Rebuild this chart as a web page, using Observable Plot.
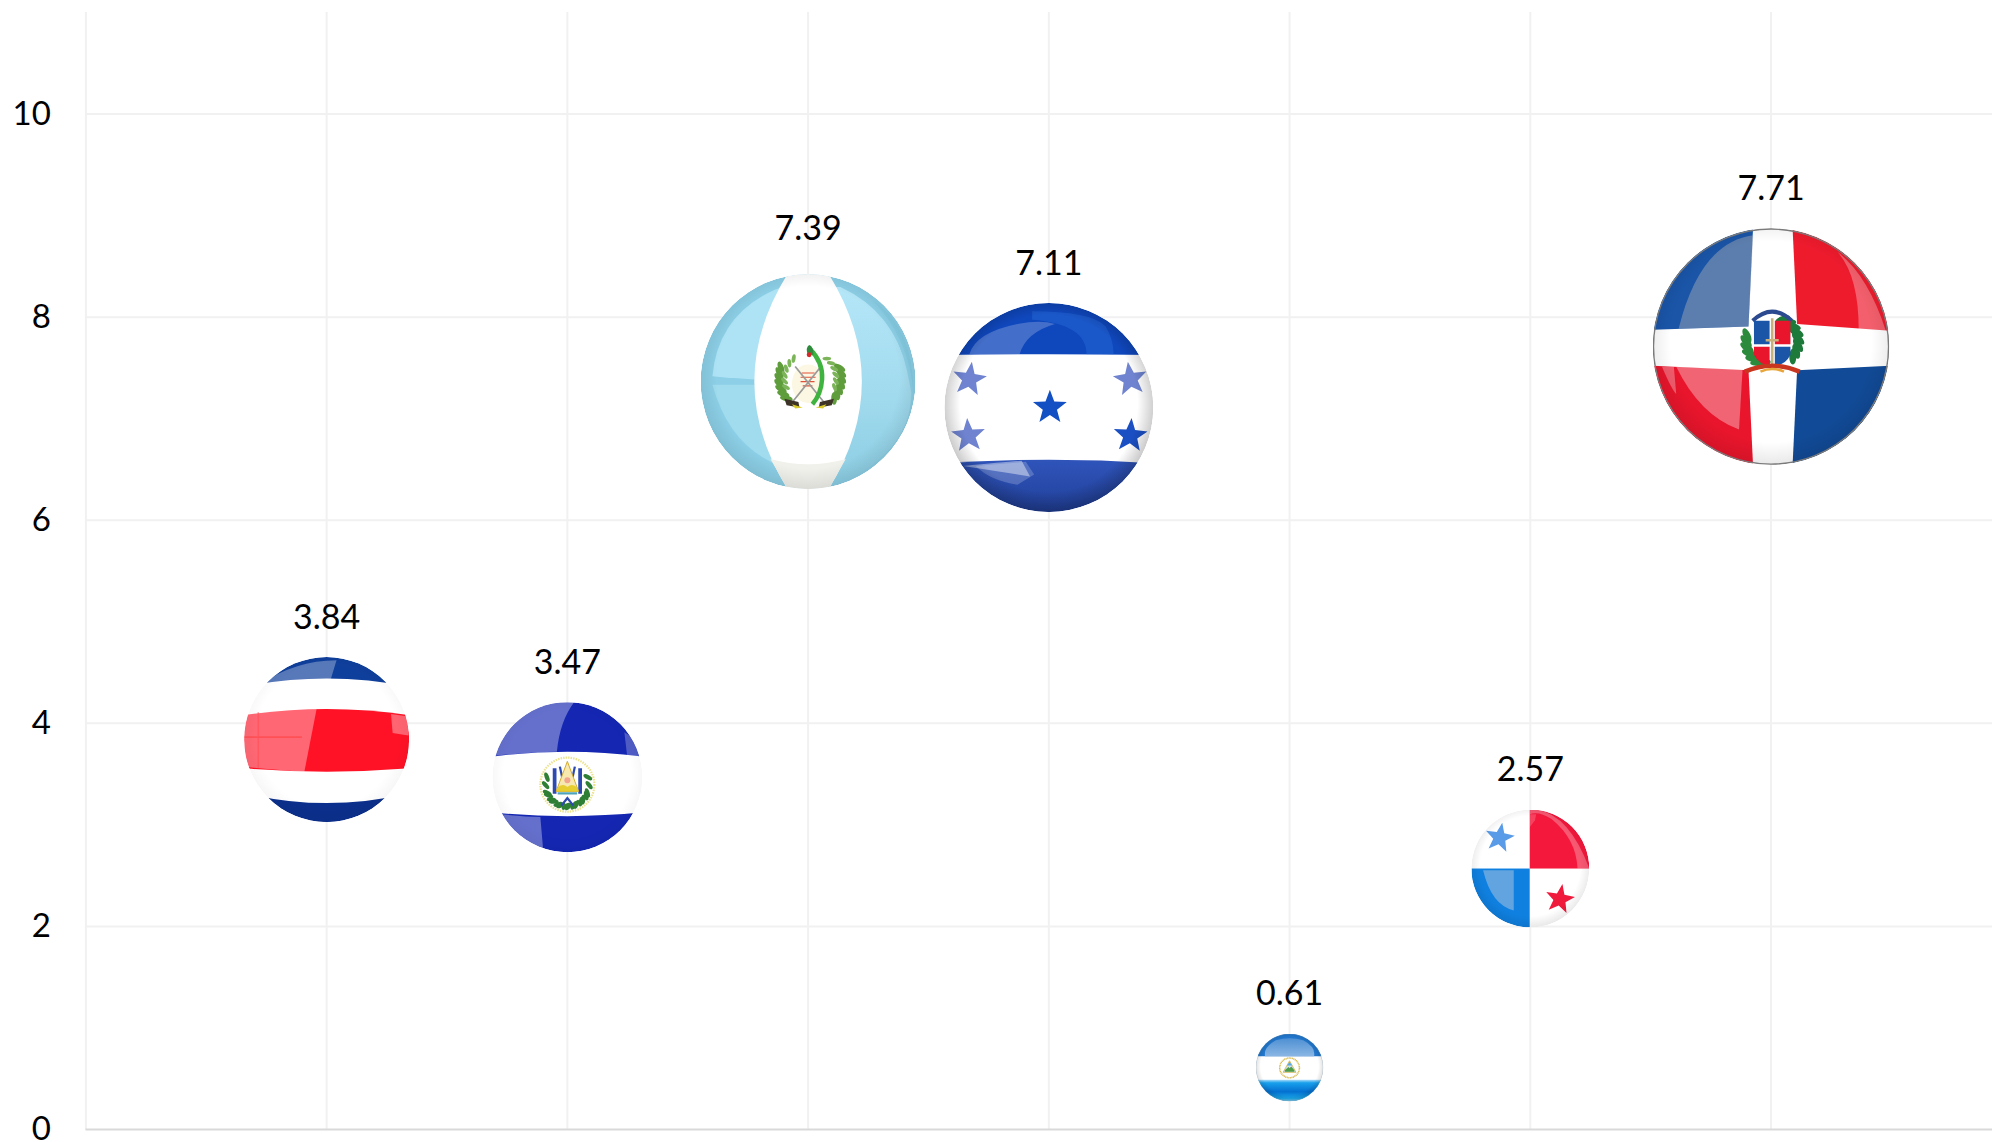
<!DOCTYPE html>
<html>
<head>
<meta charset="utf-8">
<script src="https://cdn.jsdelivr.net/npm/d3@7"></script>
<script src="https://cdn.jsdelivr.net/npm/@observablehq/plot@0.6"></script>
<style>html,body{margin:0;padding:0;background:#fff}svg{display:block}</style>
</head>
<body>
<div id="chart"></div>
<script>
const positions = [1, 2, 3, 4, 5, 6, 7];
const countries = ["Costa Rica", "El Salvador", "Guatemala", "Honduras", "Nicaragua", "Panama", "Dominican Republic"];
const values = [3.84, 3.47, 7.39, 7.11, 0.61, 2.57, 7.71];
const bubbleSizes = [165, 150, 215, 209, 68, 118, 237];
const yTicks = [0, 2, 4, 6, 8, 10];
const xGrid = [0, 1, 2, 3, 4, 5, 6, 7];

/* ---------- flag artwork (each in a -100..100 box, placed by Plot.image) ---------- */
function star(cx, cy, r, fill, rot = 0) {
  let p = [];
  for (let i = 0; i < 10; i++) {
    const a = (-90 + rot + i * 36) * Math.PI / 180, q = i % 2 ? r * 0.42 : r;
    p.push((cx + q * Math.cos(a)).toFixed(2) + "," + (cy + q * Math.sin(a)).toFixed(2));
  }
  return `<polygon points="${p.join(" ")}" fill="${fill}"/>`;
}
const arcPath = (yc, ye) => `M-110 ${ye}Q0 ${2 * yc - ye} 110 ${ye}`;
const bandDown = (yc, ye) => `<path d="${arcPath(yc, ye)}V-110H-110Z"`;
const bandUp = (yc, ye) => `<path d="${arcPath(yc, ye)}V110H-110Z"`;
function wrap(body, rim = 0.16, stroke = "") {
  return "data:image/svg+xml," + encodeURIComponent(
`<svg xmlns="http://www.w3.org/2000/svg" viewBox="-100 -100 200 200" width="400" height="400">
<defs>
<clipPath id="c"><circle r="100"/></clipPath>
<radialGradient id="rim" cx="0" cy="-4" r="106" gradientUnits="userSpaceOnUse">
<stop offset="0.8" stop-color="#000" stop-opacity="0"/><stop offset="1" stop-color="#000" stop-opacity="${rim}"/></radialGradient>
<linearGradient id="nicB" x1="0" y1="36" x2="0" y2="100" gradientUnits="userSpaceOnUse">
<stop offset="0" stop-color="#a8daf8"/><stop offset="0.14" stop-color="#18a0ec"/><stop offset="0.55" stop-color="#0470d0"/><stop offset="0.85" stop-color="#19a9ee"/><stop offset="1" stop-color="#8fd8f6"/></linearGradient>
<linearGradient id="nicT" x1="0" y1="-100" x2="0" y2="-33" gradientUnits="userSpaceOnUse">
<stop offset="0" stop-color="#3f86cf"/><stop offset="1" stop-color="#8ab6e4"/></linearGradient>
<linearGradient id="gtR" x1="0" y1="-100" x2="0" y2="100" gradientUnits="userSpaceOnUse">
<stop offset="0" stop-color="#b6e8f9"/><stop offset="0.5" stop-color="#a4dcef"/><stop offset="1" stop-color="#8bcde3"/></linearGradient>
<linearGradient id="hnB" x1="0" y1="50" x2="0" y2="100" gradientUnits="userSpaceOnUse">
<stop offset="0" stop-color="#2f54ba"/><stop offset="1" stop-color="#21409a"/></linearGradient>
</defs>
<g clip-path="url(#c)"><circle r="100" fill="#fff"/>${body}<circle r="100" fill="url(#rim)"/></g>${stroke}</svg>`);
}
function wreath(cx, cy, r, color, from, to, n, size) {
  let s = "";
  for (let i = 0; i < n; i++) {
    const a = from + (to - from) * i / (n - 1), rad = a * Math.PI / 180;
    s += `<ellipse cx="${cx + r * Math.cos(rad)}" cy="${cy + r * Math.sin(rad)}" rx="${size}" ry="${size * 0.45}" fill="${color}" transform="rotate(${a + 50} ${cx + r * Math.cos(rad)} ${cy + r * Math.sin(rad)})"/>`;
  }
  return s;
}

const costaRica = wrap(`
${bandDown(-74, -62)} fill="#0f3f9c"/>
<path d="M-110 -28Q0 -46 110 -28V34Q0 44 -110 34Z" fill="#ff1226"/>
${bandUp(77, 62)} fill="#0b2f8c"/>
<path d="M-100 -33Q-50 -37 -12 -38L-27 39Q-60 37 -100 33Z" fill="#fff" opacity="0.36"/>
<path d="M-100 -3H-30" stroke="#ff5056" stroke-width="2"/>
<path d="M-83 -33V34" stroke="#ff5056" stroke-width="1.2"/>
<path d="M78 -31L99 -28V-5L80 -8Z" fill="#fff" opacity="0.35"/>
<path d="M-82 -66Q-38 -96 12 -96L5 -73Q-45 -72 -82 -66Z" fill="#fff" opacity="0.3"/>
`, 0.04);

const elSalvador = wrap(`
${bandDown(-34, -26)} fill="#1426b2"/>
${bandUp(52, 46)} fill="#1426b2"/>
<path d="M-100 -28Q-45 -34 -14 -34Q-10 -75 9 -100H-100Z" fill="#fff" opacity="0.34"/>
<path d="M-100 48Q-60 53 -36 53L-32 100H-100Z" fill="#fff" opacity="0.34"/>
<path d="M80 -26L100 -28V-45L76 -60Z" fill="#fff" opacity="0.25"/>
<g transform="translate(0 10)">
<circle r="36" fill="none" stroke="#ece391" stroke-width="3" stroke-dasharray="2 1.4"/>
${wreath(0, 0, 29, "#2f7f35", 30, 200, 9, 6.5)}${wreath(0, 0, 29, "#2f7f35", 150, -20, 9, 6.5)}
<path d="M-17 -22V12M17 -22V12" stroke="#2c4ab0" stroke-width="5"/>
<path d="M-10 -24L-7 -10" stroke="#2c4ab0" stroke-width="3"/><path d="M10 -24L7 -10" stroke="#2c4ab0" stroke-width="3"/>
<path d="M0 -31L15 9H-15Z" fill="#f7e8b0" stroke="#d1a92a" stroke-width="1.3"/>
<circle cy="-6" r="4" fill="#f1a58e"/>
<path d="M-14 5Q-7 -3 0 3Q7 -3 14 5V9H-14Z" fill="#e6ce2e"/>
<path d="M-13 10H13V13H-13Z" fill="#4ea3b8"/>
<path d="M-8 28L0 18L8 28" stroke="#2c4ab0" stroke-width="3" fill="none"/>
</g>`, 0.04);

const guatemala = wrap(`
<circle r="100" fill="#8ccfe6"/>
<path d="M-89 -5Q-84 -62 -30 -86Q0 -95 30 -86Q84 -62 92 -5Q50 -1 0 -1Q-50 -1 -89 -5Z" fill="#aee3f6"/>
<path d="M-89 3Q-50 3 0 3L-6 84Q-70 72 -89 3Z" fill="#a0dbee"/>
<path d="M30 -88Q80 -65 92 -10L96 10Q96 60 40 90L20 90V-88Z" fill="url(#gtR)"/>
<path d="M60 -76Q94 -40 98 10Q98 -50 60 -76Z" fill="#7fc8e0" opacity="0.6"/>
<path d="M-18 -102Q-82 0 -18 102H18Q82 0 18 -102Z" fill="#fff"/>
<path d="M-35 72Q0 82 35 72L18 102H-18Z" fill="#f1f1ec"/>
${wreath(2, -3, 29, "#5f9d3c", 140, 200, 7, 6)}${wreath(2, -3, 29, "#5f9d3c", 40, -20, 7, 6)}
${wreath(2, -3, 24, "#7cb45a", 160, 230, 6, 4)}${wreath(2, -3, 24, "#7cb45a", 20, -50, 6, 4)}
<ellipse cx="0" cy="2" rx="15" ry="18" fill="#fbf7e2"/>
<path d="M-6 -8H6M-7 -4H7M-7 0H6M-5 4H4" stroke="#e2523a" stroke-width="1.1"/>
<path d="M-17 22L12 -14M17 22L-12 -14" stroke="#9a9a9a" stroke-width="1.6"/>
<path d="M2 -30Q14 -18 13 -2Q12 12 4 21" stroke="#3fb33f" stroke-width="4.2" fill="none"/>
<path d="M1 -34Q-3 -31 0 -25L5 -25Q5 -33 1 -34Z" fill="#2e8b3d"/>
<circle cx="1" cy="-25" r="2.3" fill="#d62828"/>
<path d="M-22 16L-9 19L-8 24L-20 22Z" fill="#3d3326"/><path d="M-15 21L-5 24L-12 25Z" fill="#d8c92c"/>
<path d="M24 16L11 19L10 24L22 22Z" fill="#3d3326"/><path d="M17 21L7 24L14 25Z" fill="#d8c92c"/>
`, 0.1);

const honduras = wrap(`
${bandDown(-51, -50)} fill="#0f47bd"/>
${bandUp(50, 54)} fill="url(#hnB)"/>
<path d="M-76 -51Q-70 -72 -30 -80Q-8 -84 6 -80Q-22 -72 -28 -51Z" fill="#fff" opacity="0.22"/>
<path d="M-16 -92Q40 -92 54 -78Q62 -66 62 -51H36Q36 -80 -16 -84Z" fill="#2a70dc" opacity="0.4"/>
<path d="M-82 56Q-40 52 -26 51L-18 66Z" fill="#fff" opacity="0.42"/>
<path d="M-70 56L-22 52L-14 64L-30 74Q-56 70 -70 56Z" fill="#fff" opacity="0.2"/>
${star(1, 0, 17, "#1250c4")}
${star(-76, -27, 17, "#6f83d0", 8)}${star(78, -27, 17, "#6f83d0", -8)}
${star(-77, 27, 17, "#6f83d0", -4)}${star(78, 27, 17, "#1a4fc4", 4)}
`, 0.26);

const nicaragua = wrap(`
${bandDown(-33, -33)} fill="#2176cb"/>
<path d="M-72 -33Q-78 -60 -40 -80Q0 -92 40 -80Q78 -60 72 -33Z" fill="url(#nicT)"/>
${bandUp(36, 36)} fill="url(#nicB)"/>
<circle cy="1" r="29" fill="none" stroke="#d8b94a" stroke-width="4.5" stroke-dasharray="3 1.6"/>
<path d="M0 -20L19 14H-19Z" fill="#cfe0ee" stroke="#d1a92a" stroke-width="2"/>
<path d="M-14 8L-3 -2L0 2L5 -3L14 8V12H-14Z" fill="#4e9c47"/>
<path d="M-8 -6L0 -16L8 -6Z" fill="#5ba8dc"/>
`, 0.18, `<circle r="99" fill="none" stroke="#8fa9c2" stroke-width="1"/>`);

const panama = wrap(`
<rect x="-1" y="-100" width="101" height="100" fill="#f4183c"/>
<rect x="-100" y="0" width="99" height="100" fill="#0f80e0"/>
<path d="M-1 -100Q62 -102 100 0H80Q78 -50 36 -84Q14 -98 -1 -92Z" fill="#fff" opacity="0.28"/>
<path d="M-80 3H-28V71Q-66 62 -80 3Z" fill="#c8d0e0" opacity="0.45"/>
<path d="M-1 -92H10L8 -82L-1 -70Z" fill="#fff" opacity="0.18"/>
${star(-52, -52, 26, "#5a9be8", 10)}
${star(50, 52, 26, "#ef1a3c", 10)}
`, 0.1);

const dominican = wrap(`
<rect x="-100" y="-100" width="200" height="200" fill="#fff"/>
<path d="M-19 -17L-15 -104H-104V-14Z" fill="#1a55a8"/>
<path d="M22 -19L18 -104H104V-13Z" fill="#ee1b2d"/>
<path d="M-19 20L-15 104H-104V16Z" fill="#e8152c"/>
<path d="M22 20L18 104H104V16Z" fill="#114a96"/>
<path d="M-19 -17L-15 -94Q-60 -88 -78 -15Z" fill="#b8b8b8" opacity="0.42"/>
<path d="M74 -14Q74 -60 56 -80Q82 -60 97 -13Z" fill="#fff" opacity="0.3"/>
<path d="M-24 19L-27 70Q-60 58 -80 17Z" fill="#fff" opacity="0.34"/>
<path d="M-92 17Q-84 36 -80 40L-82 17Z" fill="#fff" opacity="0.3"/>
<g transform="translate(1 -2) scale(1.1)">
${wreath(-2, -2, 18, "#2c8a3c", 105, 195, 7, 6)}${wreath(2, -2, 18, "#1e7a3a", -70, 40, 8, 6)}
<path d="M-15 -18Q0 -32 15 -18" stroke="#2c4a90" stroke-width="3" fill="none"/>
<path d="M-14 -18H-2V0H-14Z" fill="#1a55a8"/><path d="M2 -18H14V0H2Z" fill="#e8152c"/>
<path d="M-14 2H-2V16Q-10 16 -14 8Z" fill="#e8152c"/><path d="M2 2H14V8Q10 16 2 16Z" fill="#1a55a8"/>
<path d="M0 -20V18M-5 -3H5" stroke="#c8b07a" stroke-width="2"/>
<path d="M-21 21Q0 12 21 21" stroke="#c9361f" stroke-width="3.5" fill="none"/>
<path d="M-9 21Q0 17 9 21" stroke="#e8a53a" stroke-width="2" fill="none"/>
</g>`, 0.1, `<circle r="99.2" fill="none" stroke="#7a7a7a" stroke-width="1.2"/>`);

const flags = [costaRica, elSalvador, guatemala, honduras, nicaragua, panama, dominican];

const rows = countries.map((country, i) => ({
  country, position: positions[i], value: values[i], size: bubbleSizes[i], flag: flags[i]
}));

const font = "Lato, 'Open Sans', sans-serif";
const axisFormat = d3.format("d");

const chart = Plot.plot({
  width: 1992,
  height: 1142,
  marginLeft: 85.4,
  marginRight: 0,
  marginTop: 12,
  marginBottom: 13,
  style: {background: "#fff", fontFamily: font, color: "#000", overflow: "hidden"},
  x: {domain: [0, 7.92], axis: null},
  y: {domain: [0, 11], label: null},
  r: {type: "linear", domain: [0, 237], range: [0, 118.5]},
  marks: [
    Plot.axisY(yTicks, {tickSize: 0, tickPadding: 35, fontSize: 33, fill: "#000", label: null, tickFormat: axisFormat, fontFamily: font}),
    Plot.ruleX(xGrid, {stroke: "#f1f1f1", strokeWidth: 2}),
    Plot.ruleY(yTicks.filter((d) => d > 0), {stroke: "#f1f1f1", strokeWidth: 2}),
    Plot.ruleY([0], {stroke: "#d9d9d9", strokeWidth: 2}),
    ...rows.map((row) => Plot.image([row], {
      x: "position", y: "value", r: "size", src: "flag", title: "country",
      dy: row.country === "Guatemala" ? 2.5 : 0
    })),
    ...rows.map((row) => Plot.text([row], {
      x: "position", y: "value", text: (d) => d.value.toFixed(2),
      dy: -(row.size / 2 + (row.country === "Guatemala" ? 42 : 39)),
      fontSize: 34, fill: "#000", fontFamily: font, lineAnchor: "middle"
    }))
  ]
});
document.getElementById("chart").append(chart);
</script>
</body>
</html>
